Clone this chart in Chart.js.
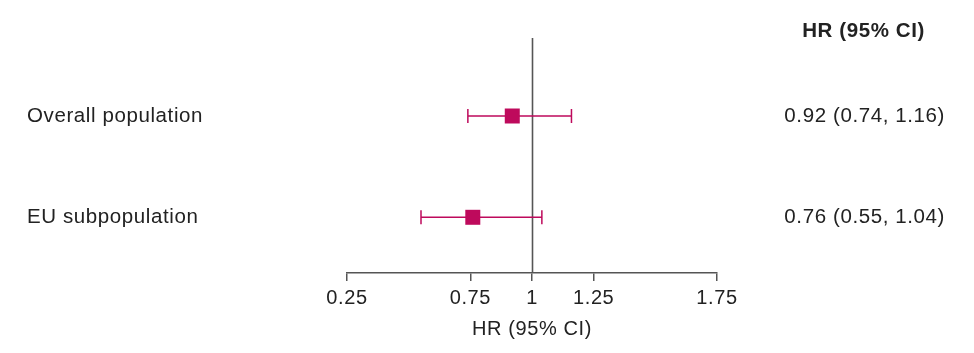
<!DOCTYPE html>
<html>
<head>
<meta charset="utf-8">
<script src="https://cdn.jsdelivr.net/npm/chart.js@4.4.1/dist/chart.umd.min.js"></script>
<style>
    html, body { margin: 0; padding: 0; background: #fff; }
    #forest { display: block; }
</style>
</head>
<body>
<canvas id="forest" width="974" height="353"></canvas>
<script>
// forest plot data
const groups = ['Overall population', 'EU subpopulation'];
const hr = [0.92, 0.76];
const ciLow = [0.74, 0.55];
const ciHigh = [1.16, 1.04];
const xTicks = [0.25, 0.75, 1, 1.25, 1.75];

const FONT = '"Liberation Sans", Arial, Helvetica, sans-serif';
const MARK = '#be0a5c';
const TEXT = '#222';

const fmt = v => v.toFixed(2);

// whiskers, reference line at HR=1, row labels and HR text columns
const forestPlugin = {
    id: 'forest',
    beforeDraw(chart) {
        // slightly looser tracking for every label on the canvas
        chart.ctx.letterSpacing = '0.6px';
    },
    beforeDatasetsDraw(chart) {
        const ctx = chart.ctx;
        const x = chart.scales.x;
        const y = chart.scales.y;
        const area = chart.chartArea;

        ctx.save();
        const x1 = Math.round(x.getPixelForValue(1)) + 0.5;
        ctx.strokeStyle = '#555';
        ctx.lineWidth = 1.6;
        ctx.beginPath();
        ctx.moveTo(x1, area.top);
        ctx.lineTo(x1, area.bottom);
        ctx.stroke();

        ctx.strokeStyle = MARK;
        ctx.lineWidth = 1.5;
        groups.forEach((g, i) => {
            const py = y.getPixelForValue(i + 1);
            const lo = x.getPixelForValue(ciLow[i]);
            const hi = x.getPixelForValue(ciHigh[i]);
            ctx.beginPath();
            ctx.moveTo(lo, py);
            ctx.lineTo(hi, py);
            ctx.moveTo(lo, py - 7);
            ctx.lineTo(lo, py + 7);
            ctx.moveTo(hi, py - 7);
            ctx.lineTo(hi, py + 7);
            ctx.stroke();
        });
        ctx.restore();
    },
    afterDraw(chart) {
        const ctx = chart.ctx;
        const y = chart.scales.y;
        ctx.save();
        ctx.fillStyle = TEXT;
        ctx.textBaseline = 'middle';

        ctx.font = 'bold 20.5px ' + FONT;
        ctx.textAlign = 'right';
        ctx.fillText('HR (95% CI)', 925, 31);

        ctx.font = '20.5px ' + FONT;
        groups.forEach((g, i) => {
            const py = y.getPixelForValue(i + 1);
            ctx.textAlign = 'left';
            ctx.fillText(g, 27, py);
            ctx.textAlign = 'right';
            ctx.fillText(fmt(hr[i]) + ' (' + fmt(ciLow[i]) + ', ' + fmt(ciHigh[i]) + ')', 945, py);
        });
        ctx.restore();
    }
};

const points = groups.map((g, i) => ({ x: hr[i], y: i + 1 }));

new Chart(document.getElementById('forest').getContext('2d'), {
    type: 'scatter',
    data: {
        datasets: [
            {
                data: points,
                pointStyle: 'rect',
                pointRadius: 10.6,
                pointHoverRadius: 10.6,
                backgroundColor: MARK,
                borderColor: MARK,
                borderWidth: 0,
            }
        ]
    },
    plugins: [forestPlugin],
    options: {
        responsive: false,
        animation: false,
        events: [],
        layout: {
            padding: { left: 347, right: 257, top: 38, bottom: 12 }
        },
        plugins: {
            legend: { display: false },
            tooltip: { enabled: false }
        },
        scales: {
            x: {
                type: 'linear',
                min: 0.25,
                max: 1.75,
                afterBuildTicks: scale => {
                    scale.ticks = xTicks.map(v => ({ value: v }));
                },
                ticks: {
                    autoSkip: false,
                    maxRotation: 0,
                    padding: 5,
                    color: TEXT,
                    font: { family: FONT, size: 20 },
                    callback: v => String(v)
                },
                grid: {
                    drawOnChartArea: false,
                    drawTicks: true,
                    tickLength: 8,
                    color: '#555',
                    lineWidth: 1.5
                },
                border: { display: true, color: '#555', width: 1.5 },
                title: {
                    display: true,
                    text: 'HR (95% CI)',
                    color: TEXT,
                    font: { family: FONT, size: 20 },
                    padding: { top: 2, bottom: 0 }
                }
            },
            y: {
                type: 'linear',
                display: false,
                reverse: true,
                min: 0.23,
                max: 2.55
            }
        }
    }
});
</script>
</body>
</html>
